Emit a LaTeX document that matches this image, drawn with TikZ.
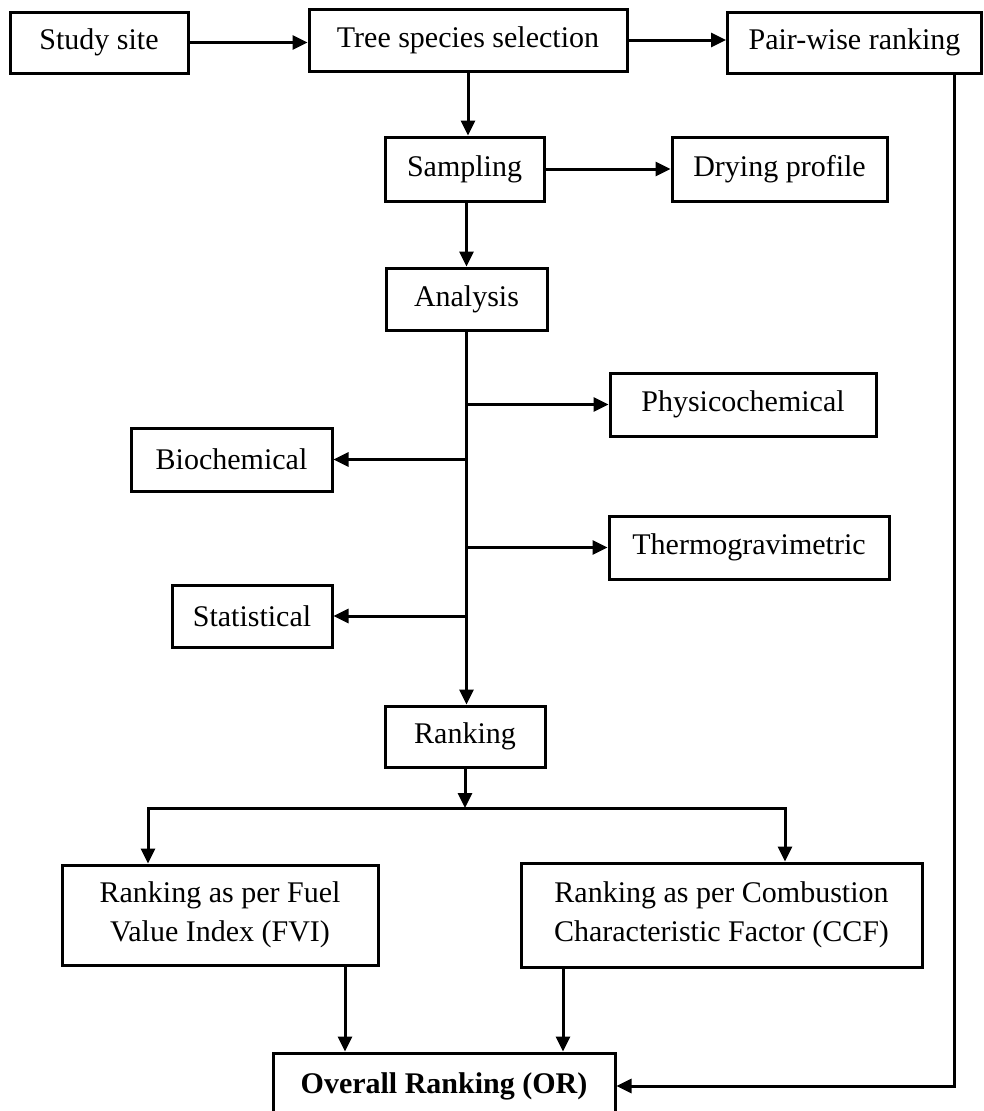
\documentclass[tikz,border=0pt]{standalone}
\usepackage{fontspec}
\setmainfont{Liberation Serif}
\usetikzlibrary{arrows.meta}
\begin{document}
\begin{tikzpicture}[x=1pt,y=-1pt,
  box/.style={draw, line width=3pt, inner sep=0pt, align=center, font=\fontsize{30}{39}\selectfont},
  conn/.style={line width=3pt, line join=miter},
  arr/.style={conn, -{Triangle[length=15pt,width=14pt]}},
  darr/.style={conn, {Triangle[length=15pt,width=14pt]}-{Triangle[length=15pt,width=14pt]}}]
\clip (0,0) rectangle (983,1111);
\fill[white] (0,0) rectangle (983,1111);
% nodes
\node[box, minimum width=178pt, minimum height=61pt] (study) at (99,42.5) {\raisebox{-2pt}{Study site}};
\node[box, minimum width=318pt, minimum height=62pt] (tree) at (468,40) {\raisebox{-2pt}{Tree species selection}};
\node[box, minimum width=254pt, minimum height=61pt] (pair) at (854.5,42.5) {\raisebox{-2pt}{Pair-wise ranking}};
\node[box, minimum width=159pt, minimum height=64pt] (samp) at (464.5,169) {\raisebox{-2pt}{Sampling}};
\node[box, minimum width=215pt, minimum height=64pt] (dry) at (779.5,169) {\raisebox{-2pt}{Drying profile}};
\node[box, minimum width=161pt, minimum height=62pt] (anal) at (466.5,299) {\raisebox{-2pt}{Analysis}};
\node[box, minimum width=266pt, minimum height=63pt] (phys) at (743,404.5) {\raisebox{-2pt}{Physicochemical}};
\node[box, minimum width=201pt, minimum height=63pt] (bio) at (231.5,459.5) {\raisebox{-2pt}{Biochemical}};
\node[box, minimum width=280pt, minimum height=63pt] (thermo) at (749,547.5) {\raisebox{-2pt}{Thermogravimetric}};
\node[box, minimum width=160pt, minimum height=62pt] (stat) at (252,616) {\raisebox{-2pt}{Statistical}};
\node[box, minimum width=160pt, minimum height=61pt] (rank) at (465,736.5) {\raisebox{-2pt}{Ranking}};
\node[box, minimum width=316pt, minimum height=100pt] (fvi) at (220,915) {Ranking as per Fuel\\Value Index (FVI)};
\node[box, minimum width=401pt, minimum height=104pt] (ccf) at (721.5,915) {Ranking as per Combustion\\Characteristic Factor (CCF)};
\node[box, minimum width=342pt, minimum height=66pt] (over) at (444,1086) {\raisebox{-2pt}{\bfseries Overall Ranking (OR)}};
% connectors
\draw[arr] (study.east) -- (study.east -| tree.west);
\draw[arr] (tree.east) -- (tree.east -| pair.west);
\draw[arr] (tree.south) -- (tree.south |- samp.north);
\draw[arr] (samp.east) -- (dry.west);
\draw[arr] (anal.north |- samp.south) -- (anal.north);
\draw[arr] (anal.south) -- (anal.south |- rank.north);
\draw[arr] (anal.south |- phys.west) -- (phys.west);
\draw[arr] (anal.south |- bio.east) -- (bio.east);
\draw[arr] (anal.south |- thermo.west) -- (thermo.west);
\draw[arr] (anal.south |- stat.east) -- (stat.east);
\coordinate (split) at (465,808);
\coordinate (lft) at (148,808);
\coordinate (rgt) at (785,808);
\draw[arr] (rank.south) -- (rank.south |- split);
\draw[darr] (lft |- fvi.north) -- (lft) -- (rgt) -- (rgt |- ccf.north);
\draw[arr] ([xshift=125pt]fvi.south) -- ([xshift=125pt]fvi.south |- over.north);
\draw[arr] ([xshift=-158.5pt]ccf.south) -- ([xshift=-158.5pt]ccf.south |- over.north);
\draw[arr] ([xshift=99.5pt]pair.south) |- (over.east);
\end{tikzpicture}
\end{document}
